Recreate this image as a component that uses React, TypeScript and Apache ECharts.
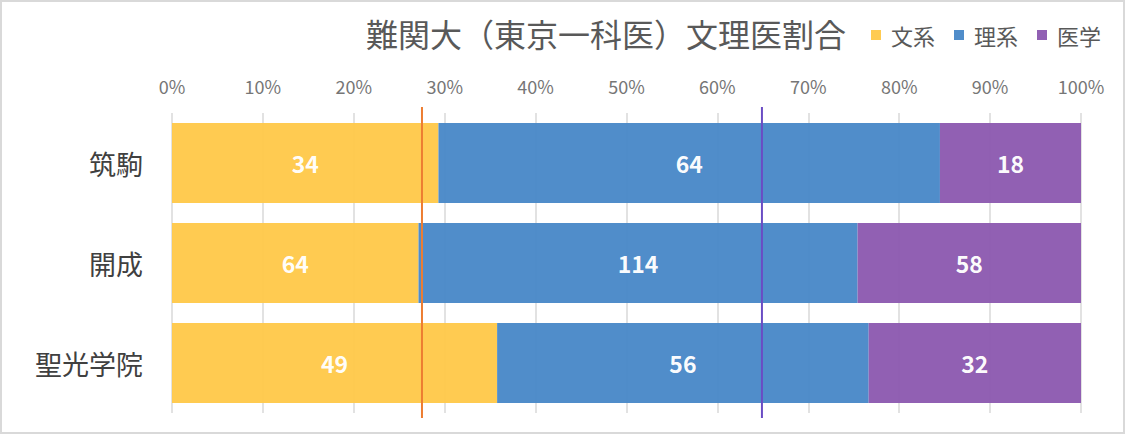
import React, { useEffect, useRef } from "react";
import * as echarts from "echarts";

const categories = ["筑駒", "開成", "聖光学院"];
const seriesNames = ["文系", "理系", "医学"];
const bunkei = [34, 64, 49];
const rikei = [64, 114, 56];
const igaku = [18, 58, 32];
const refLines = [27.5, 64.9];
const xTicks = [0, 10, 20, 30, 40, 50, 60, 70, 80, 90, 100];

const colors = ["#FFC94B", "#4A89C8", "#8D5BB1"];
const lineColors = ["#ED7D31", "#6A4CC4"];
const FONT = "'Noto Sans CJK JP', 'Noto Sans', sans-serif";

export default function App() {
  const ref = useRef<HTMLDivElement>(null);
  useEffect(() => {
    document.body.style.margin = "0";
    if (!ref.current) return;
    const chart = echarts.init(ref.current, undefined, { renderer: "svg" });
    const raw = [bunkei, rikei, igaku];
    const totals = categories.map((_, i) => bunkei[i] + rikei[i] + igaku[i]);
    const barSeries = raw.map((arr, s) => ({
      name: seriesNames[s],
      type: "bar",
      stack: "total",
      xAxisIndex: 0,
      yAxisIndex: 0,
      barCategoryGap: "20%",
      itemStyle: { color: colors[s], opacity: 0.97 },
      label: {
        show: true,
        position: "inside",
        color: "#ffffff",
        fontSize: 23,
        fontWeight: "bold",
        fontFamily: FONT,
        formatter: (p: any) => String(arr[p.dataIndex]),
      },
      data: arr.map((v, i) => (v / totals[i]) * 100),
    }));
    const lineSeries = refLines.map((v, i) => ({
      type: "line",
      xAxisIndex: 1,
      yAxisIndex: 1,
      symbol: "none",
      silent: true,
      lineStyle: { color: lineColors[i], width: 2 },
      data: [
        [v, 0],
        [v, 1],
      ],
    }));
    chart.setOption({
      animation: false,
      textStyle: { fontFamily: FONT },
      title: {
        text: "難関大（東京一科医）文理医割合",
        left: 361,
        top: 12,
        textStyle: { fontSize: 32, fontWeight: "normal", color: "#595959", fontFamily: FONT },
      },
      legend: {
        left: 866,
        top: 19,
        itemWidth: 10,
        itemHeight: 10,
        itemGap: 19,
        icon: "rect",
        data: seriesNames,
        textStyle: { fontSize: 22, color: "#595959", fontFamily: FONT, padding: [0, 0, 0, 5] },
      },
      grid: [
        { left: 172, right: 45, top: 113, bottom: 23 },
        { left: 172, right: 45, top: 107, bottom: 18 },
      ],
      xAxis: [
        {
          type: "value",
          gridIndex: 0,
          min: xTicks[0],
          max: xTicks[xTicks.length - 1],
          interval: 10,
          position: "top",
          axisLine: { show: false },
          axisTick: { show: false },
          splitLine: { lineStyle: { color: "#d9d9d9", width: 1.5 } },
          axisLabel: {
            formatter: "{value}%",
            color: "#767676",
            fontSize: 18,
            margin: 18,
            fontFamily: FONT,
          },
        },
        { type: "value", gridIndex: 1, min: 0, max: 100, show: false },
      ],
      yAxis: [
        {
          type: "category",
          gridIndex: 0,
          inverse: true,
          data: categories,
          axisLine: { show: false },
          axisTick: { show: false },
          axisLabel: { color: "#404040", fontSize: 27, fontWeight: "normal", margin: 29, fontFamily: FONT },
        },
        { type: "value", gridIndex: 1, min: 0, max: 1, show: false },
      ],
      graphic: [
        {
          type: "rect",
          shape: { x: 1, y: 1, width: 1123, height: 432 },
          style: { fill: "none", stroke: "#d9d9d9", lineWidth: 2 },
          silent: true,
        },
      ],
      series: [...barSeries, ...lineSeries],
    });
    return () => chart.dispose();
  }, []);
  return <div ref={ref} style={{ width: 1126, height: 436 }} />;
}
